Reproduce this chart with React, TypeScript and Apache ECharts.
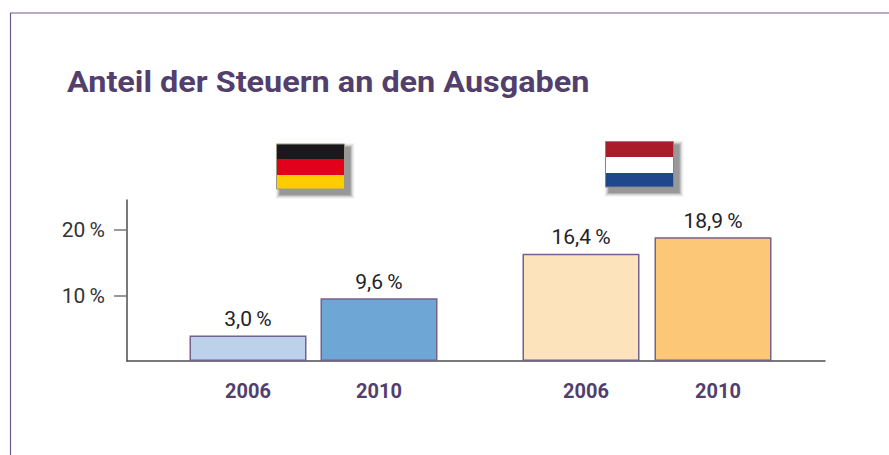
import React, { useEffect, useRef } from "react";
import * as echarts from "echarts";

const TITLE = "Anteil der Steuern an den Ausgaben";
const YEARS = ["2006", "2010"];
// Bar heights as drawn in the picture (the first German bar is drawn taller than its printed 3,0 %)
const GERMANY_VALUES = [3.9, 9.6];
const NETHERLANDS_VALUES = [16.4, 18.9];
const GERMANY_LABELS = ["3,0\u2009%", "9,6\u2009%"];
const NETHERLANDS_LABELS = ["16,4\u2009%", "18,9\u2009%"];
const GERMANY_COLORS = ["#bcd2ea", "#6ea7d6"];
const NETHERLANDS_COLORS = ["#fde3bb", "#fcc878"];
const Y_TICKS = [10, 20];
const Y_MAX = 24.6;

const PURPLE = "#523f6d";
const FONT = "Roboto";
const SHADOW_LAYERS = ["#f6f6f6", "#e8e8e8", "#d0d0d0", "#b4b4b5", "#98989a"];

const flag = (x: number, y: number, w: number, colors: string[], hs: number[], border: string) => {
  const total = hs.reduce((a, b) => a + b, 0);
  let cy = y;
  const stripes = colors.map((c, i) => {
    const r = { type: "rect", shape: { x, y: cy, width: w, height: hs[i] }, style: { fill: c } };
    cy += hs[i];
    return r;
  });
  const shadow = SHADOW_LAYERS.map((fill, i) => {
    const grow = SHADOW_LAYERS.length - 1 - i;
    return {
      type: "rect",
      shape: { x: x + 3 - grow, y: y + 3 - grow, width: w + 3 + 2 * grow, height: total + 3 + 2 * grow },
      style: { fill },
    };
  });
  return [
    ...shadow,
    ...stripes,
    { type: "rect", shape: { x, y, width: w, height: total }, style: { fill: "none", stroke: border, lineWidth: 1 } },
  ];
};

export default function App() {
  const ref = useRef<HTMLDivElement>(null);
  useEffect(() => {
    document.body.style.margin = "0";
    const chart = echarts.init(ref.current!, undefined, { renderer: "svg" });
    const yBase = { type: "value", min: 0, max: Y_MAX };
    const hiddenY = (gridIndex: number) => ({ ...yBase, gridIndex, show: false });
    const xGroup = (gridIndex: number, padLeft: number) => ({
      type: "category",
      gridIndex,
      data: YEARS,
      axisLine: { show: false },
      axisTick: { show: false },
      axisLabel: {
        color: PURPLE,
        fontFamily: FONT,
        fontWeight: "bold",
        fontSize: 20,
        margin: 20,
        padding: [0, 0, 0, padLeft],
      },
    });
    const bars = (xAxisIndex: number, values: number[], labels: string[], colors: string[]) => ({
      type: "bar",
      xAxisIndex,
      yAxisIndex: xAxisIndex,
      barWidth: 117,
      data: values.map((value, i) => ({
        value,
        itemStyle: { color: colors[i], borderColor: "#75618f", borderWidth: 1.5 },
        label: {
          show: true,
          position: "top",
          distance: 6,
          formatter: labels[i],
          color: "#222226",
          fontFamily: FONT,
          fontSize: 21,
        },
      })),
    });
    chart.setOption({
      animation: false,
      backgroundColor: "#fff",
      grid: [
        { left: 127, right: 64, top: 200, bottom: 94 },
        { left: 182.5, width: 262, top: 200, bottom: 94 },
        { left: 515, width: 264, top: 200, bottom: 94 },
      ],
      xAxis: [
        {
          type: "category",
          gridIndex: 0,
          data: [],
          axisLine: { show: true, lineStyle: { color: "#4d4d50", width: 1.5 } },
          axisTick: { show: false },
          axisLabel: { show: false },
        },
        xGroup(1, 0),
        xGroup(2, 10),
      ],
      yAxis: [
        {
          ...yBase,
          gridIndex: 0,
          splitLine: { show: false },
          axisLine: { show: true, lineStyle: { color: "#4d4d50", width: 1.5 } },
          axisTick: { show: true, length: 13, customValues: Y_TICKS, lineStyle: { color: "#777", width: 1.5 } },
          axisLabel: {
            customValues: Y_TICKS,
            formatter: (v: number) => `${v}\u2009%`,
            color: "#333336",
            fontFamily: FONT,
            fontSize: 21,
            margin: 22,
          },
        },
        hiddenY(1),
        hiddenY(2),
      ],
      series: [
        bars(1, GERMANY_VALUES, GERMANY_LABELS, GERMANY_COLORS),
        bars(2, NETHERLANDS_VALUES, NETHERLANDS_LABELS, NETHERLANDS_COLORS),
      ],
      graphic: [
        {
          type: "polyline",
          shape: { points: [[10.5, 455], [10.5, 13], [889, 13]] },
          style: { fill: "none", stroke: "#6f5a8a", lineWidth: 1.2 },
        },
        {
          type: "text",
          x: 67,
          y: 67,
          scaleX: 1.08,
          style: { text: TITLE, fill: PURPLE, font: `bold 30px ${FONT}` },
        },
        ...flag(276.5, 144, 68, ["#1b181d", "#e2001a", "#ffcc00"], [15, 16, 14], "#9a9a86"),
        ...flag(605.5, 141.5, 68, ["#ab1c2a", "#ffffff", "#1f478c"], [15.5, 16, 14], "#85858f"),
      ],
    });
    return () => chart.dispose();
  }, []);
  return <div ref={ref} style={{ width: 889, height: 455 }} />;
}
